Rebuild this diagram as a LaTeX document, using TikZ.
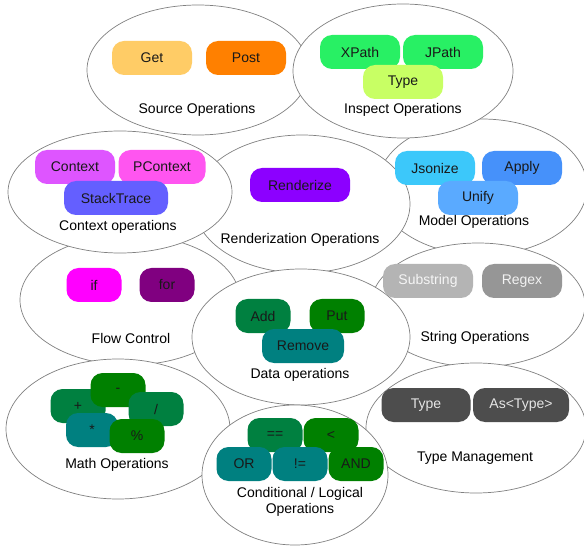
\documentclass[tikz,border=0pt]{standalone}
\usepackage{fontspec}
\setmainfont{Liberation Sans}
\usetikzlibrary{shapes.geometric}

\definecolor{getc}{RGB}{255,204,102}
\definecolor{postc}{RGB}{255,128,0}
\definecolor{pathc}{RGB}{40,240,100}
\definecolor{typec}{RGB}{200,255,100}
\definecolor{ctxc}{RGB}{222,85,255}
\definecolor{pctxc}{RGB}{255,85,240}
\definecolor{stackc}{RGB}{100,95,255}
\definecolor{renderc}{RGB}{140,0,255}
\definecolor{jsonc}{RGB}{60,200,250}
\definecolor{applyc}{RGB}{70,145,250}
\definecolor{unifyc}{RGB}{90,170,255}
\definecolor{ifc}{RGB}{255,0,255}
\definecolor{forc}{RGB}{128,0,128}
\definecolor{dgreen}{RGB}{0,128,64}
\definecolor{green}{RGB}{0,128,0}
\definecolor{teal}{RGB}{0,128,128}
\definecolor{subc}{RGB}{180,180,180}
\definecolor{regexc}{RGB}{150,150,150}
\definecolor{tmc}{RGB}{77,77,77}

\begin{document}
\begin{tikzpicture}[x=1pt,y=-1pt,
  font={\fontsize{14pt}{16pt}\selectfont},
  group/.style={ellipse,draw=gray,fill=white,line width=0.7,inner sep=0},
  btn/.style={rounded corners=12pt,minimum height=34pt,minimum width=80pt,inner sep=0,text=black!90},
  sbtn/.style={btn,minimum width=55pt}
  ]
  \useasboundingbox (0,0) rectangle (584,548);

  % groups, back to front
  \node[group,minimum width=222pt,minimum height=130pt] (source) at (198,70) {};
  \node[group,minimum width=210pt,minimum height=136pt] (model) at (482,187) {};
  \node[group,minimum width=220pt,minimum height=134pt] (inspect) at (403,71) {};
  \node[group,minimum width=216pt,minimum height=138pt] (render) at (302,204) {};
  \node[group,minimum width=220pt,minimum height=130pt] (flow) at (130,300) {};
  \node[group,minimum width=224pt,minimum height=122pt] (context) at (120,192) {};
  \node[group,minimum width=214pt,minimum height=124pt] (string) at (478,305) {};
  \node[group,minimum width=220pt,minimum height=130pt] (typem) at (476,428) {};
  \node[group,minimum width=224pt,minimum height=140pt] (math) at (118,429) {};
  \node[group,minimum width=218pt,minimum height=136pt] (data) at (301,337) {};
  \node[group,minimum width=186pt,minimum height=140pt] (cond) at (295,475) {};

  % source operations
  \node[btn,fill=getc] (get) at (152,58) {Get};
  \node[btn,fill=postc] (post) at (246,58) {Post};
  \node (sourcelbl) at (197,110) {Source Operations};

  % inspect operations
  \node[btn,fill=pathc] (xpath) at (360,52) {XPath};
  \node[btn,fill=pathc] (jpath) at (443,52) {JPath};
  \node[btn,fill=typec] (itype) at (403,82) {Type};
  \node (inspectlbl) at (403,110) {Inspect Operations};

  % context operations
  \node[btn,fill=ctxc] (ctx) at (75,167) {Context};
  \node[btn,fill=pctxc,minimum width=87pt] (pctx) at (162,167) {PContext};
  \node[btn,fill=stackc,minimum width=104pt] (stack) at (116,198) {StackTrace};
  \node (contextlbl) at (118,227) {Context operations};

  % renderization
  \node[btn,fill=renderc,minimum width=100pt] (renderize) at (300,185) {Renderize};
  \node (renderlbl) at (300,240) {Renderization Operations};

  % model operations
  \node[btn,fill=jsonc] (jsonize) at (435,168) {Jsonize};
  \node[btn,fill=applyc] (apply) at (522,168) {Apply};
  \node[btn,fill=unifyc] (unify) at (478,198) {Unify};
  \node (modellbl) at (474,222) {Model Operations};

  % flow control
  \node[sbtn,fill=ifc] (if) at (94,285) {if};
  \node[sbtn,fill=forc] (for) at (167,285) {for};
  \node (flowlbl) at (131,338) {Flow Control};

  % data operations
  \node[sbtn,fill=dgreen] (add) at (263,316) {Add};
  \node[sbtn,fill=green] (put) at (337,316) {Put};
  \node[btn,fill=teal,minimum width=82pt] (remove) at (303,346) {Remove};
  \node (datalbl) at (300,375) {Data operations};

  % string operations
  \node[btn,fill=subc,minimum width=90pt,text=white!92!gray] (substring) at (428,281) {Substring};
  \node[btn,fill=regexc,text=white!90!gray] (regex) at (522,281) {Regex};
  \node (stringlbl) at (475,338) {String Operations};

  % math operations
  \node[sbtn,fill=dgreen] (plus) at (78,406) {+};
  \node[sbtn,fill=green] (minus) at (118,390) {-};
  \node[sbtn,fill=dgreen] (div) at (156,409) {/};
  \node[sbtn,fill=teal,minimum width=52pt] (mul) at (92,430) {*};
  \node[sbtn,fill=green] (mod) at (137,436) {\%};
  \node (mathlbl) at (117,465) {Math Operations};

  % conditional / logical
  \node[sbtn,fill=dgreen] (eq) at (275,435) {==};
  \node[sbtn,fill=green] (lt) at (331,435) {<};
  \node[sbtn,fill=teal] (or) at (244,464) {OR};
  \node[sbtn,fill=teal] (neq) at (300,464) {!=};
  \node[sbtn,fill=green] (and) at (356,464) {AND};
  \node[align=center] (condlbl) at (300,502) {Conditional / Logical\\Operations};

  % type management
  \node[btn,fill=tmc,minimum width=89pt,text=white!80!gray] (type) at (426,405) {Type};
  \node[btn,fill=tmc,minimum width=96pt,text=white!80!gray] (astype) at (521,405) {As<Type>};
  \node (typemlbl) at (475,458) {Type Management};
\end{tikzpicture}
\end{document}
